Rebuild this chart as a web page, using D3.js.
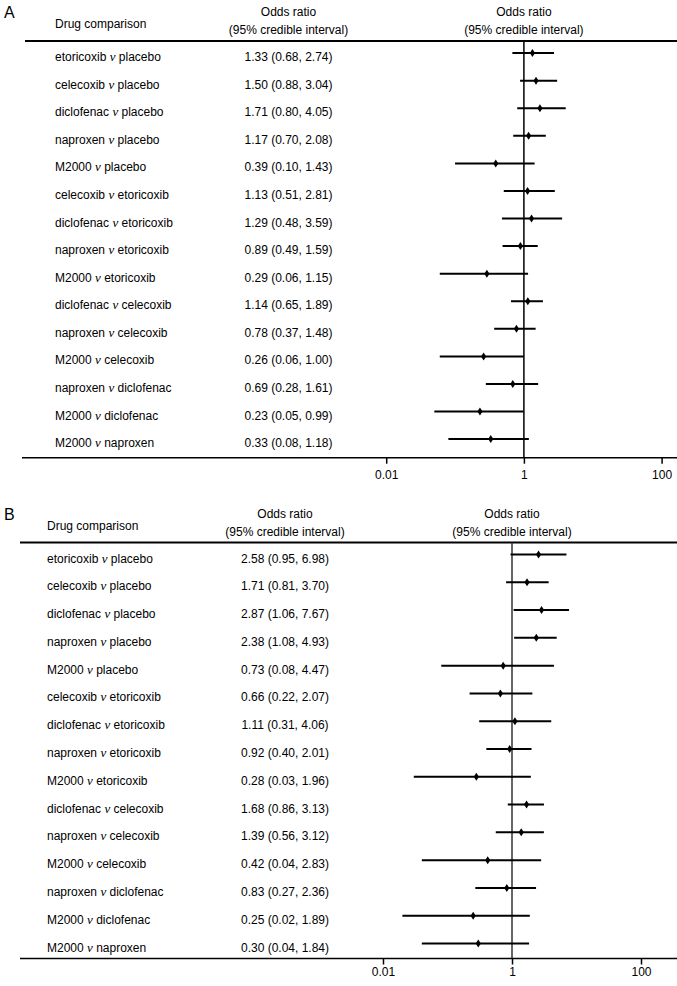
<!DOCTYPE html>
<html>
<head>
<meta charset="utf-8">
<script src="https://cdn.jsdelivr.net/npm/d3@7"></script>
<style>
  html, body { margin: 0; padding: 0; background: #fff; }
  svg { display: block; }
  text { font-family: "Liberation Sans", Arial, Helvetica, sans-serif; fill: #000; }
</style>
</head>
<body>
<svg id="chart" width="677" height="986"></svg>
<script>
// ---------- DATA ----------
const comparisonFirst = ["etoricoxib", "celecoxib", "diclofenac", "naproxen", "M2000",
  "celecoxib", "diclofenac", "naproxen", "M2000",
  "diclofenac", "naproxen", "M2000",
  "naproxen", "M2000", "M2000"];
const comparisonSecond = ["placebo", "placebo", "placebo", "placebo", "placebo",
  "etoricoxib", "etoricoxib", "etoricoxib", "etoricoxib",
  "celecoxib", "celecoxib", "celecoxib",
  "diclofenac", "diclofenac", "naproxen"];

const panelA_or = [1.33, 1.50, 1.71, 1.17, 0.39, 1.13, 1.29, 0.89, 0.29, 1.14, 0.78, 0.26, 0.69, 0.23, 0.33];
const panelA_lo = [0.68, 0.88, 0.80, 0.70, 0.10, 0.51, 0.48, 0.49, 0.06, 0.65, 0.37, 0.06, 0.28, 0.05, 0.08];
const panelA_hi = [2.74, 3.04, 4.05, 2.08, 1.43, 2.81, 3.59, 1.59, 1.15, 1.89, 1.48, 1.00, 1.61, 0.99, 1.18];

const panelB_or = [2.58, 1.71, 2.87, 2.38, 0.73, 0.66, 1.11, 0.92, 0.28, 1.68, 1.39, 0.42, 0.83, 0.25, 0.30];
const panelB_lo = [0.95, 0.81, 1.06, 1.08, 0.08, 0.22, 0.31, 0.40, 0.03, 0.86, 0.56, 0.04, 0.27, 0.02, 0.04];
const panelB_hi = [6.98, 3.70, 7.67, 4.93, 4.47, 2.07, 4.06, 2.01, 1.96, 3.13, 3.12, 2.83, 2.36, 1.89, 1.84];

const tickValues = [0.01, 1, 100];
const tickLabels = ["0.01", "1", "100"];
const headerCol1 = "Drug comparison";
const headerCol2 = ["Odds ratio", "(95% credible interval)"];
const headerCol3 = ["Odds ratio", "(95% credible interval)"];
const panelLetters = ["A", "B"];

// ---------- DRAW ----------
const svg = d3.select("#chart");
const fmt = d3.format(".2f");

function drawPanel(letter, orv, lo, hi, L) {
  const g = svg.append("g");
  const x = d3.scaleLog().domain([0.01, 100]).range([L.x0, L.x1]);
  const idx = d3.range(orv.length);
  const y = d3.scalePoint().domain(idx).range([L.yFirst, L.yLast]);

  // panel letter
  g.append("text").attr("x", L.letterX).attr("y", L.letterY)
    .style("font-size", "16px").text(letter);

  // headers
  g.append("text").attr("x", L.labelX).attr("y", L.headY2 - 6)
    .style("font-size", "12px").text(headerCol1);
  headerCol2.forEach((t, i) => {
    g.append("text").attr("x", L.valX).attr("y", i === 0 ? L.headY1 : L.headY2)
      .attr("text-anchor", "middle").style("font-size", "12px").text(t);
  });
  headerCol3.forEach((t, i) => {
    g.append("text").attr("x", x(1)).attr("y", i === 0 ? L.headY1 : L.headY2)
      .attr("text-anchor", "middle").style("font-size", "12px").text(t);
  });

  // header rule
  g.append("line").attr("x1", L.ruleX0).attr("x2", 677)
    .attr("y1", L.ruleY).attr("y2", L.ruleY)
    .attr("stroke", "#000").attr("stroke-width", 2);

  // reference line at OR = 1
  g.append("line").attr("x1", x(1)).attr("x2", x(1))
    .attr("y1", L.ruleY).attr("y2", L.axisY)
    .attr("stroke", L.refColor).attr("stroke-width", 1.5);

  // row labels
  const lab = g.selectAll("text.lab").data(idx).join("text")
    .attr("class", "lab")
    .attr("x", L.labelX).attr("y", i => y(i) + L.textDy)
    .style("font-size", "12px");
  lab.append("tspan").text(i => comparisonFirst[i] + " ");
  lab.append("tspan").style("font-family", "'Liberation Serif', 'DejaVu Serif', serif")
    .style("font-style", "italic").style("font-size", "13px").text("ν");
  lab.append("tspan").text(i => " " + comparisonSecond[i]);

  // values text
  g.selectAll("text.val").data(idx).join("text")
    .attr("class", "val")
    .attr("x", L.valX).attr("y", i => y(i) + L.textDy)
    .attr("text-anchor", "middle").style("font-size", "12px")
    .text(i => `${fmt(orv[i])} (${fmt(lo[i])}, ${fmt(hi[i])})`);

  // CI bars
  g.selectAll("line.ci").data(idx).join("line")
    .attr("class", "ci")
    .attr("x1", i => x(lo[i])).attr("x2", i => x(hi[i]))
    .attr("y1", i => y(i)).attr("y2", i => y(i))
    .attr("stroke", "#000").attr("stroke-width", 2);

  // point estimates (diamonds)
  g.selectAll("path.pt").data(idx).join("path")
    .attr("class", "pt")
    .attr("d", "M0,-4L2.6,0L0,4L-2.6,0Z")
    .attr("transform", i => `translate(${x(orv[i])},${y(i)})`)
    .attr("fill", "#000");

  // axis
  g.append("line").attr("x1", L.axisX0).attr("x2", 677)
    .attr("y1", L.axisY).attr("y2", L.axisY)
    .attr("stroke", "#000").attr("stroke-width", 1.5);
  const axis = d3.axisBottom(x).tickValues(tickValues)
    .tickFormat((d, i) => tickLabels[i]).tickSize(6).tickPadding(L.tickPad);
  const ag = g.append("g").attr("transform", `translate(0,${L.axisY})`).call(axis);
  ag.select(".domain").remove();
  ag.selectAll(".tick line").attr("stroke", "#000").attr("stroke-width", 1.5);
  ag.selectAll(".tick text").style("font-size", "12px")
    .style("font-family", "'Liberation Sans', Arial, sans-serif").attr("fill", "#000");
}

drawPanel(panelLetters[0], panelA_or, panelA_lo, panelA_hi, {
  x0: 386.2, x1: 661.6, yFirst: 53.1, yLast: 439.1,
  letterX: 4, letterY: 18, labelX: 55, valX: 288.5,
  headY1: 16, headY2: 34, ruleX0: 25, ruleY: 41,
  axisX0: 22, axisY: 457.7, tickPad: 7, textDy: 8, refColor: "#000"
});

drawPanel(panelLetters[1], panelB_or, panelB_lo, panelB_hi, {
  x0: 383, x1: 641, yFirst: 554.5, yLast: 943.5,
  letterX: 4, letterY: 519.5, labelX: 47, valX: 285,
  headY1: 517.5, headY2: 535.5, ruleX0: 20, ruleY: 542.5,
  axisX0: 20, axisY: 958.5, tickPad: 3, textDy: 8, refColor: "#333"
});
</script>
</body>
</html>
